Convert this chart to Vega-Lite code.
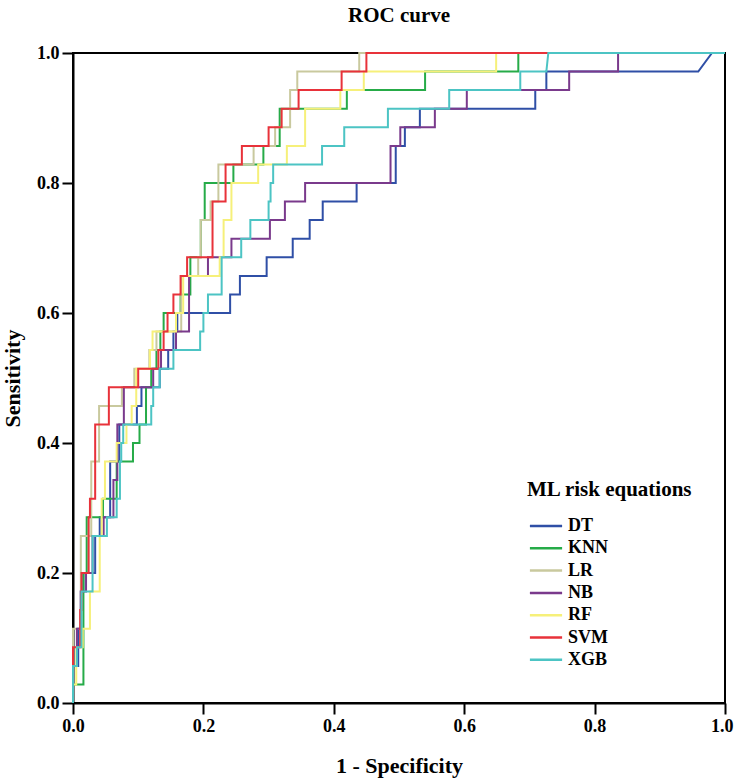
{
"$schema":"https://vega.github.io/schema/vega-lite/v6.json",
"width":652,"height":650,
"autosize":{"type":"none"},
"padding":{"left":73,"top":53,"right":10,"bottom":76},
"background":"white",
"title":{"text":"ROC curve","font":"Liberation Serif","fontSize":21,"fontWeight":"bold","color":"black","offset":18,"anchor":"middle"},
"config":{"view":{"stroke":"black","strokeWidth":2},
"axis":{"domainColor":"black","domainWidth":2,"tickColor":"black","tickWidth":2,"tickSize":11,"grid":false,"labelFont":"Liberation Serif","labelFontSize":18,"labelFontWeight":"bold","labelColor":"black","labelFlush":false,"titleFont":"Liberation Serif","titleFontSize":22,"titleFontWeight":"bold","titleColor":"black"}},
"data":{"values":[
{"m":"DT","x":0,"y":0},{"m":"DT","x":0,"y":0.0571},{"m":"DT","x":0.008,"y":0.0571},{"m":"DT","x":0.008,"y":0.1143},{"m":"DT","x":0.012,"y":0.1143},{"m":"DT","x":0.012,"y":0.1714},{"m":"DT","x":0.016,"y":0.1714},{"m":"DT","x":0.016,"y":0.2},{"m":"DT","x":0.034,"y":0.2},{"m":"DT","x":0.034,"y":0.2571},{"m":"DT","x":0.041,"y":0.2571},{"m":"DT","x":0.041,"y":0.2857},{"m":"DT","x":0.057,"y":0.2857},{"m":"DT","x":0.057,"y":0.3714},{"m":"DT","x":0.071,"y":0.3714},{"m":"DT","x":0.071,"y":0.4286},{"m":"DT","x":0.098,"y":0.4286},{"m":"DT","x":0.098,"y":0.4571},{"m":"DT","x":0.105,"y":0.4571},{"m":"DT","x":0.105,"y":0.4857},{"m":"DT","x":0.133,"y":0.4857},{"m":"DT","x":0.133,"y":0.5143},{"m":"DT","x":0.146,"y":0.5143},{"m":"DT","x":0.146,"y":0.5429},{"m":"DT","x":0.154,"y":0.5429},{"m":"DT","x":0.154,"y":0.5714},{"m":"DT","x":0.16,"y":0.5714},{"m":"DT","x":0.16,"y":0.6},{"m":"DT","x":0.241,"y":0.6},{"m":"DT","x":0.241,"y":0.6286},{"m":"DT","x":0.256,"y":0.6286},{"m":"DT","x":0.256,"y":0.6571},{"m":"DT","x":0.297,"y":0.6571},{"m":"DT","x":0.297,"y":0.6857},{"m":"DT","x":0.337,"y":0.6857},{"m":"DT","x":0.337,"y":0.7143},{"m":"DT","x":0.363,"y":0.7143},{"m":"DT","x":0.363,"y":0.7429},{"m":"DT","x":0.383,"y":0.7429},{"m":"DT","x":0.383,"y":0.7714},{"m":"DT","x":0.435,"y":0.7714},{"m":"DT","x":0.435,"y":0.8},{"m":"DT","x":0.495,"y":0.8},{"m":"DT","x":0.495,"y":0.8571},{"m":"DT","x":0.509,"y":0.8571},{"m":"DT","x":0.509,"y":0.8857},{"m":"DT","x":0.532,"y":0.8857},{"m":"DT","x":0.532,"y":0.9143},{"m":"DT","x":0.709,"y":0.9143},{"m":"DT","x":0.709,"y":0.9429},{"m":"DT","x":0.726,"y":0.9429},{"m":"DT","x":0.726,"y":0.9714},{"m":"DT","x":0.959,"y":0.9714},{"m":"DT","x":0.98,"y":1},{"m":"DT","x":1,"y":1},
{"m":"KNN","x":0,"y":0},{"m":"KNN","x":0,"y":0.0286},{"m":"KNN","x":0.016,"y":0.0286},{"m":"KNN","x":0.016,"y":0.2},{"m":"KNN","x":0.021,"y":0.2},{"m":"KNN","x":0.021,"y":0.2857},{"m":"KNN","x":0.046,"y":0.2857},{"m":"KNN","x":0.046,"y":0.3143},{"m":"KNN","x":0.067,"y":0.3143},{"m":"KNN","x":0.067,"y":0.3714},{"m":"KNN","x":0.092,"y":0.3714},{"m":"KNN","x":0.092,"y":0.4},{"m":"KNN","x":0.102,"y":0.4},{"m":"KNN","x":0.102,"y":0.4286},{"m":"KNN","x":0.112,"y":0.4286},{"m":"KNN","x":0.112,"y":0.4857},{"m":"KNN","x":0.12,"y":0.4857},{"m":"KNN","x":0.12,"y":0.5143},{"m":"KNN","x":0.128,"y":0.5143},{"m":"KNN","x":0.128,"y":0.5429},{"m":"KNN","x":0.134,"y":0.5429},{"m":"KNN","x":0.134,"y":0.5714},{"m":"KNN","x":0.139,"y":0.5714},{"m":"KNN","x":0.139,"y":0.6},{"m":"KNN","x":0.165,"y":0.6},{"m":"KNN","x":0.165,"y":0.6286},{"m":"KNN","x":0.18,"y":0.6286},{"m":"KNN","x":0.18,"y":0.6857},{"m":"KNN","x":0.196,"y":0.6857},{"m":"KNN","x":0.196,"y":0.7429},{"m":"KNN","x":0.202,"y":0.7429},{"m":"KNN","x":0.202,"y":0.8},{"m":"KNN","x":0.246,"y":0.8},{"m":"KNN","x":0.246,"y":0.8286},{"m":"KNN","x":0.292,"y":0.8286},{"m":"KNN","x":0.292,"y":0.8571},{"m":"KNN","x":0.317,"y":0.8571},{"m":"KNN","x":0.317,"y":0.9143},{"m":"KNN","x":0.42,"y":0.9143},{"m":"KNN","x":0.42,"y":0.9429},{"m":"KNN","x":0.54,"y":0.9429},{"m":"KNN","x":0.54,"y":0.9714},{"m":"KNN","x":0.683,"y":0.9714},{"m":"KNN","x":0.683,"y":1},{"m":"KNN","x":1,"y":1},
{"m":"LR","x":0,"y":0},{"m":"LR","x":0,"y":0.1143},{"m":"LR","x":0.012,"y":0.1143},{"m":"LR","x":0.012,"y":0.2571},{"m":"LR","x":0.028,"y":0.2571},{"m":"LR","x":0.028,"y":0.3714},{"m":"LR","x":0.04,"y":0.3714},{"m":"LR","x":0.04,"y":0.4571},{"m":"LR","x":0.075,"y":0.4571},{"m":"LR","x":0.075,"y":0.4857},{"m":"LR","x":0.094,"y":0.4857},{"m":"LR","x":0.094,"y":0.5143},{"m":"LR","x":0.117,"y":0.5143},{"m":"LR","x":0.117,"y":0.5429},{"m":"LR","x":0.128,"y":0.5429},{"m":"LR","x":0.128,"y":0.5714},{"m":"LR","x":0.166,"y":0.5714},{"m":"LR","x":0.166,"y":0.6571},{"m":"LR","x":0.192,"y":0.6571},{"m":"LR","x":0.192,"y":0.6857},{"m":"LR","x":0.196,"y":0.6857},{"m":"LR","x":0.196,"y":0.7429},{"m":"LR","x":0.211,"y":0.7429},{"m":"LR","x":0.211,"y":0.7714},{"m":"LR","x":0.223,"y":0.7714},{"m":"LR","x":0.223,"y":0.8286},{"m":"LR","x":0.277,"y":0.8286},{"m":"LR","x":0.277,"y":0.8571},{"m":"LR","x":0.31,"y":0.8571},{"m":"LR","x":0.31,"y":0.8857},{"m":"LR","x":0.333,"y":0.8857},{"m":"LR","x":0.333,"y":0.9429},{"m":"LR","x":0.344,"y":0.9429},{"m":"LR","x":0.344,"y":0.9714},{"m":"LR","x":0.439,"y":0.9714},{"m":"LR","x":0.439,"y":1},{"m":"LR","x":1,"y":1},
{"m":"NB","x":0,"y":0},{"m":"NB","x":0,"y":0.0571},{"m":"NB","x":0.006,"y":0.0571},{"m":"NB","x":0.006,"y":0.1143},{"m":"NB","x":0.012,"y":0.1143},{"m":"NB","x":0.012,"y":0.1714},{"m":"NB","x":0.02,"y":0.1714},{"m":"NB","x":0.02,"y":0.2},{"m":"NB","x":0.03,"y":0.2},{"m":"NB","x":0.03,"y":0.2571},{"m":"NB","x":0.047,"y":0.2571},{"m":"NB","x":0.047,"y":0.2857},{"m":"NB","x":0.062,"y":0.2857},{"m":"NB","x":0.062,"y":0.3429},{"m":"NB","x":0.068,"y":0.3429},{"m":"NB","x":0.068,"y":0.4286},{"m":"NB","x":0.078,"y":0.4286},{"m":"NB","x":0.078,"y":0.4857},{"m":"NB","x":0.123,"y":0.4857},{"m":"NB","x":0.123,"y":0.5143},{"m":"NB","x":0.135,"y":0.5143},{"m":"NB","x":0.135,"y":0.5429},{"m":"NB","x":0.158,"y":0.5429},{"m":"NB","x":0.158,"y":0.5714},{"m":"NB","x":0.178,"y":0.5714},{"m":"NB","x":0.178,"y":0.6571},{"m":"NB","x":0.207,"y":0.6571},{"m":"NB","x":0.207,"y":0.6857},{"m":"NB","x":0.243,"y":0.6857},{"m":"NB","x":0.243,"y":0.7143},{"m":"NB","x":0.302,"y":0.7143},{"m":"NB","x":0.302,"y":0.7429},{"m":"NB","x":0.325,"y":0.7429},{"m":"NB","x":0.325,"y":0.7714},{"m":"NB","x":0.356,"y":0.7714},{"m":"NB","x":0.356,"y":0.8},{"m":"NB","x":0.487,"y":0.8},{"m":"NB","x":0.487,"y":0.8571},{"m":"NB","x":0.502,"y":0.8571},{"m":"NB","x":0.502,"y":0.8857},{"m":"NB","x":0.555,"y":0.8857},{"m":"NB","x":0.555,"y":0.9143},{"m":"NB","x":0.604,"y":0.9143},{"m":"NB","x":0.604,"y":0.9429},{"m":"NB","x":0.761,"y":0.9429},{"m":"NB","x":0.761,"y":0.9714},{"m":"NB","x":0.836,"y":0.9714},{"m":"NB","x":0.836,"y":1},{"m":"NB","x":1,"y":1},
{"m":"RF","x":0,"y":0},{"m":"RF","x":0,"y":0.0286},{"m":"RF","x":0.005,"y":0.0286},{"m":"RF","x":0.005,"y":0.0857},{"m":"RF","x":0.015,"y":0.0857},{"m":"RF","x":0.015,"y":0.1143},{"m":"RF","x":0.026,"y":0.1143},{"m":"RF","x":0.026,"y":0.1714},{"m":"RF","x":0.041,"y":0.1714},{"m":"RF","x":0.041,"y":0.2571},{"m":"RF","x":0.044,"y":0.2571},{"m":"RF","x":0.044,"y":0.3143},{"m":"RF","x":0.049,"y":0.3143},{"m":"RF","x":0.049,"y":0.3714},{"m":"RF","x":0.067,"y":0.3714},{"m":"RF","x":0.067,"y":0.4},{"m":"RF","x":0.082,"y":0.4},{"m":"RF","x":0.082,"y":0.4286},{"m":"RF","x":0.09,"y":0.4286},{"m":"RF","x":0.09,"y":0.4571},{"m":"RF","x":0.097,"y":0.4571},{"m":"RF","x":0.097,"y":0.5143},{"m":"RF","x":0.118,"y":0.5143},{"m":"RF","x":0.118,"y":0.5429},{"m":"RF","x":0.122,"y":0.5429},{"m":"RF","x":0.122,"y":0.5714},{"m":"RF","x":0.158,"y":0.5714},{"m":"RF","x":0.158,"y":0.6},{"m":"RF","x":0.169,"y":0.6},{"m":"RF","x":0.169,"y":0.6571},{"m":"RF","x":0.225,"y":0.6571},{"m":"RF","x":0.225,"y":0.6857},{"m":"RF","x":0.231,"y":0.6857},{"m":"RF","x":0.231,"y":0.7429},{"m":"RF","x":0.243,"y":0.7429},{"m":"RF","x":0.243,"y":0.8},{"m":"RF","x":0.284,"y":0.8},{"m":"RF","x":0.284,"y":0.8286},{"m":"RF","x":0.328,"y":0.8286},{"m":"RF","x":0.328,"y":0.8571},{"m":"RF","x":0.356,"y":0.8571},{"m":"RF","x":0.356,"y":0.9143},{"m":"RF","x":0.41,"y":0.9143},{"m":"RF","x":0.41,"y":0.9429},{"m":"RF","x":0.446,"y":0.9429},{"m":"RF","x":0.446,"y":0.9714},{"m":"RF","x":0.649,"y":0.9714},{"m":"RF","x":0.649,"y":1},{"m":"RF","x":1,"y":1},
{"m":"SVM","x":0,"y":0},{"m":"SVM","x":0,"y":0.0857},{"m":"SVM","x":0.011,"y":0.0857},{"m":"SVM","x":0.011,"y":0.1429},{"m":"SVM","x":0.013,"y":0.1429},{"m":"SVM","x":0.013,"y":0.2},{"m":"SVM","x":0.024,"y":0.2},{"m":"SVM","x":0.024,"y":0.2857},{"m":"SVM","x":0.026,"y":0.2857},{"m":"SVM","x":0.026,"y":0.3143},{"m":"SVM","x":0.034,"y":0.3143},{"m":"SVM","x":0.034,"y":0.4286},{"m":"SVM","x":0.055,"y":0.4286},{"m":"SVM","x":0.055,"y":0.4857},{"m":"SVM","x":0.1,"y":0.4857},{"m":"SVM","x":0.1,"y":0.5143},{"m":"SVM","x":0.131,"y":0.5143},{"m":"SVM","x":0.131,"y":0.5429},{"m":"SVM","x":0.139,"y":0.5429},{"m":"SVM","x":0.139,"y":0.5714},{"m":"SVM","x":0.145,"y":0.5714},{"m":"SVM","x":0.145,"y":0.6},{"m":"SVM","x":0.154,"y":0.6},{"m":"SVM","x":0.154,"y":0.6286},{"m":"SVM","x":0.165,"y":0.6286},{"m":"SVM","x":0.165,"y":0.6571},{"m":"SVM","x":0.175,"y":0.6571},{"m":"SVM","x":0.175,"y":0.6857},{"m":"SVM","x":0.214,"y":0.6857},{"m":"SVM","x":0.214,"y":0.7714},{"m":"SVM","x":0.234,"y":0.7714},{"m":"SVM","x":0.234,"y":0.8286},{"m":"SVM","x":0.259,"y":0.8286},{"m":"SVM","x":0.259,"y":0.8571},{"m":"SVM","x":0.3,"y":0.8571},{"m":"SVM","x":0.3,"y":0.8857},{"m":"SVM","x":0.32,"y":0.8857},{"m":"SVM","x":0.32,"y":0.9143},{"m":"SVM","x":0.346,"y":0.9143},{"m":"SVM","x":0.346,"y":0.9429},{"m":"SVM","x":0.412,"y":0.9429},{"m":"SVM","x":0.412,"y":0.9714},{"m":"SVM","x":0.45,"y":0.9714},{"m":"SVM","x":0.45,"y":1},{"m":"SVM","x":1,"y":1},
{"m":"XGB","x":0,"y":0},{"m":"XGB","x":0,"y":0.0571},{"m":"XGB","x":0.006,"y":0.0571},{"m":"XGB","x":0.006,"y":0.0857},{"m":"XGB","x":0.013,"y":0.0857},{"m":"XGB","x":0.013,"y":0.1714},{"m":"XGB","x":0.03,"y":0.1714},{"m":"XGB","x":0.03,"y":0.2571},{"m":"XGB","x":0.052,"y":0.2571},{"m":"XGB","x":0.052,"y":0.2857},{"m":"XGB","x":0.067,"y":0.2857},{"m":"XGB","x":0.067,"y":0.3143},{"m":"XGB","x":0.072,"y":0.3143},{"m":"XGB","x":0.072,"y":0.3714},{"m":"XGB","x":0.074,"y":0.3714},{"m":"XGB","x":0.074,"y":0.4},{"m":"XGB","x":0.077,"y":0.4},{"m":"XGB","x":0.077,"y":0.4286},{"m":"XGB","x":0.12,"y":0.4286},{"m":"XGB","x":0.12,"y":0.4571},{"m":"XGB","x":0.123,"y":0.4571},{"m":"XGB","x":0.123,"y":0.4857},{"m":"XGB","x":0.133,"y":0.4857},{"m":"XGB","x":0.133,"y":0.5143},{"m":"XGB","x":0.154,"y":0.5143},{"m":"XGB","x":0.154,"y":0.5429},{"m":"XGB","x":0.195,"y":0.5429},{"m":"XGB","x":0.195,"y":0.5714},{"m":"XGB","x":0.2,"y":0.5714},{"m":"XGB","x":0.2,"y":0.6},{"m":"XGB","x":0.207,"y":0.6},{"m":"XGB","x":0.207,"y":0.6286},{"m":"XGB","x":0.228,"y":0.6286},{"m":"XGB","x":0.228,"y":0.6857},{"m":"XGB","x":0.258,"y":0.6857},{"m":"XGB","x":0.258,"y":0.7143},{"m":"XGB","x":0.272,"y":0.7143},{"m":"XGB","x":0.272,"y":0.7429},{"m":"XGB","x":0.3,"y":0.7429},{"m":"XGB","x":0.3,"y":0.7714},{"m":"XGB","x":0.303,"y":0.7714},{"m":"XGB","x":0.303,"y":0.8},{"m":"XGB","x":0.307,"y":0.8},{"m":"XGB","x":0.307,"y":0.8286},{"m":"XGB","x":0.382,"y":0.8286},{"m":"XGB","x":0.382,"y":0.8571},{"m":"XGB","x":0.416,"y":0.8571},{"m":"XGB","x":0.416,"y":0.8857},{"m":"XGB","x":0.483,"y":0.8857},{"m":"XGB","x":0.483,"y":0.9143},{"m":"XGB","x":0.577,"y":0.9143},{"m":"XGB","x":0.577,"y":0.9429},{"m":"XGB","x":0.686,"y":0.9429},{"m":"XGB","x":0.686,"y":0.9714},{"m":"XGB","x":0.726,"y":0.9714},{"m":"XGB","x":0.729,"y":1},{"m":"XGB","x":1,"y":1}
]},
"mark":{"type":"line","strokeWidth":2,"interpolate":"linear"},
"encoding":{
"x":{"field":"x","type":"quantitative","scale":{"domain":[0,1],"nice":false},"axis":{"values":[0,0.2,0.4,0.6,0.8,1],"format":".1f","title":"1 - Specificity","labelPadding":3,"titlePadding":20,"labelAlign":{"condition":{"test":"datum.value == 1","value":"right"},"value":"center"},"labelOffset":{"condition":{"test":"datum.value == 1","value":8},"value":0}}},
"y":{"field":"y","type":"quantitative","scale":{"domain":[0,1],"nice":false},"axis":{"values":[0,0.2,0.4,0.6,0.8,1],"format":".1f","title":"Sensitivity","labelPadding":3,"titlePadding":12}},
"color":{"field":"m","type":"nominal","scale":{"domain":["DT","KNN","LR","NB","RF","SVM","XGB"],"range":["#2f4fa6","#26ab48","#c9c99e","#7a3a8c","#f6f07a","#e8323a","#4cc4c4"]},
"legend":{"title":"ML risk equations","orient":"none","legendX":454,"legendY":426,"padding":0,"symbolType":"M-2.3,0H2.3","symbolSize":196,"symbolStrokeWidth":2.5,"symbolOffset":10,"titleFont":"Liberation Serif","titleFontSize":21,"titleFontWeight":"bold","titleColor":"black","titleLimit":400,"titlePadding":17,"labelFont":"Liberation Serif","labelFontSize":18,"labelFontWeight":"bold","labelColor":"black","labelOffset":13,"rowPadding":4.3}},
"order":{"value":null}
}
}
